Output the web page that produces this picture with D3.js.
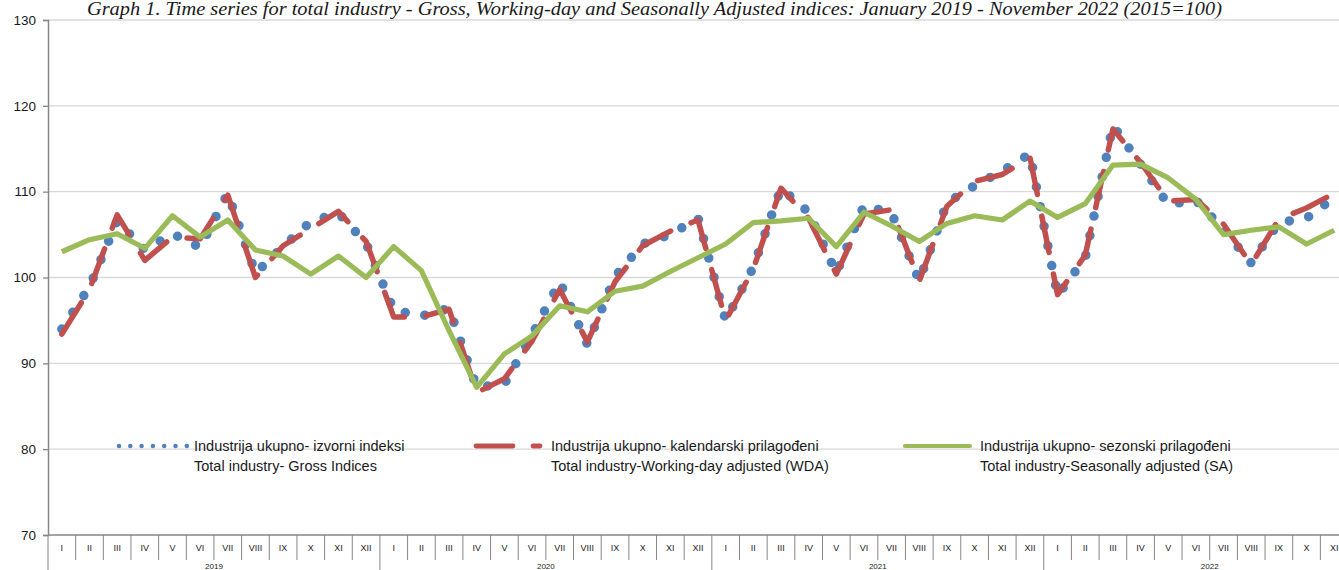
<!DOCTYPE html>
<html lang="en">
<head>
  <meta charset="UTF-8">
  <title>Graph 1. Total industry indices</title>
  <style>
    body { margin: 0; padding: 0; background: #ffffff; }
    svg { display: block; }
    .title { font-family: 'Liberation Serif', serif; font-style: italic; font-size: 18px; fill: #1a1a1a; }
    .lbl { font-family: 'Liberation Sans', Arial, sans-serif; fill: #1a1a1a; }
  </style>
</head>
<body>
<svg id="chart"></svg>
<script src="https://d3js.org/d3.v7.min.js"></script>
<script>
  const width = 1339, height = 570;

  const months = ["I", "II", "III", "IV", "V", "VI", "VII", "VIII", "IX", "X", "XI", "XII"];
  const years = ["2019", "2020", "2021", "2022"];
  const yTicks = [70, 80, 90, 100, 110, 120, 130];

  // Jan 2019 - Nov 2022
  const gross = [
    94.0, 98.9, 106.6, 103.2, 105.1, 103.5, 109.8, 100.5, 103.6, 106.5, 107.5, 104.0,
    96.2, 95.5, 96.4, 87.2, 87.6, 93.3, 99.5, 92.2, 100.1, 103.9, 105.0, 106.9,
    95.0, 101.2, 110.4, 107.6, 100.5, 108.4, 107.5, 99.6, 108.7, 110.7, 112.4, 114.4,
    97.9, 102.3, 117.7, 113.2, 108.5, 109.0, 105.6, 101.7, 106.4, 106.9, 109.3
  ];
  const wda = [
    93.4, 98.6, 107.3, 102.0, 104.7, 104.5, 109.6, 100.0, 103.7, 105.7, 107.7, 104.2,
    95.4, 95.4, 96.3, 86.6, 88.2, 92.6, 98.6, 92.5, 99.5, 103.7, 105.4, 106.7,
    95.0, 101.0, 110.4, 106.9, 100.4, 107.4, 107.9, 99.6, 108.3, 111.2, 112.0, 114.0,
    98.0, 102.6, 117.3, 113.4, 108.9, 109.1, 106.2, 101.5, 106.8, 108.1, 109.8
  ];
  const sa = [
    103.0, 104.4, 105.1, 103.4, 107.2, 104.7, 106.7, 103.2, 102.5, 100.4, 102.5, 100.0,
    103.6, 100.8, 93.8, 87.2, 91.1, 93.2, 96.7, 96.0, 98.4, 99.0, 100.7, 102.3,
    103.9, 106.4, 106.6, 106.9, 103.6, 107.6, 106.0, 104.2, 106.3, 107.2, 106.7, 108.9,
    107.0, 108.6, 113.1, 113.2, 111.6, 109.1, 105.0, 105.5, 105.9, 103.9, 105.5
  ];

  const legendHr = ["Industrija ukupno- izvorni indeksi", "Industrija ukupno- kalendarski prilagođeni", "Industrija ukupno- sezonski prilagođeni"];
  const legendEn = ["Total industry- Gross Indices", "Total industry-Working-day adjusted (WDA)", "Total industry-Seasonally adjusted (SA)"];

  const title = "Graph 1. Time series for total industry - Gross, Working-day and Seasonally Adjusted indices: January 2019 - November 2022 (2015=100)";

  // categories: year-month keys
  const cats = [];
  years.forEach(yr => months.forEach(m => { if (cats.length < gross.length) cats.push(yr + "-" + m); }));

  const left = 48, bw = 27.66;
  const x = d3.scaleBand().domain(cats).range([left, left + bw * cats.length]);
  const y = d3.scaleLinear().domain([70, 130]).range([535, 20]);
  const cx = i => x(cats[i]) + x.bandwidth() / 2;

  const svg = d3.select("#chart").attr("width", width).attr("height", height);

  // gridlines
  svg.append("g").selectAll("line")
    .data(yTicks.filter(t => t > 70))
    .enter().append("line")
    .attr("x1", left).attr("x2", width)
    .attr("y1", d => y(d)).attr("y2", d => y(d))
    .attr("stroke", "#d9d9d9").attr("stroke-width", 1.3);

  // y axis
  const yAxis = svg.append("g")
    .attr("transform", `translate(${left},0)`)
    .call(d3.axisLeft(y).tickValues(yTicks).tickSize(5).tickPadding(7));
  yAxis.select(".domain").attr("stroke", "#868686").attr("stroke-width", 1.5);
  yAxis.selectAll(".tick line").attr("stroke", "#868686").attr("stroke-width", 1.3);
  yAxis.selectAll(".tick text").attr("class", "lbl").style("font-size", "13.5px")
    .style("font-family", "'Liberation Sans', Arial, sans-serif").attr("fill", "#1a1a1a");

  // x axis line
  svg.append("line")
    .attr("x1", left).attr("x2", width)
    .attr("y1", y(70)).attr("y2", y(70))
    .attr("stroke", "#868686").attr("stroke-width", 1.5);

  // category separators
  const bounds = d3.range(cats.length + 1);
  svg.append("g").selectAll("line")
    .data(bounds)
    .enter().append("line")
    .attr("x1", i => left + i * x.step()).attr("x2", i => left + i * x.step())
    .attr("y1", y(70))
    .attr("y2", i => (i % 12 === 0) ? height : y(70) + 25)
    .attr("stroke", "#868686").attr("stroke-width", 1);

  // month labels
  svg.append("g").selectAll("text")
    .data(cats)
    .enter().append("text")
    .attr("class", "lbl")
    .attr("x", (d, i) => cx(i))
    .attr("y", y(70) + 16)
    .attr("text-anchor", "middle")
    .style("font-size", "9px")
    .text(d => d.split("-")[1]);

  // year labels
  svg.append("g").selectAll("text")
    .data(years)
    .enter().append("text")
    .attr("class", "lbl")
    .attr("x", (d, i) => left + (i * 12 + 6) * x.step())
    .attr("y", height - 1)
    .attr("text-anchor", "middle")
    .style("font-size", "8px")
    .text(d => d);

  // series
  const line = d3.line().x((d, i) => cx(i)).y(d => y(d));

  svg.append("path").datum(gross)
    .attr("d", line).attr("fill", "none")
    .attr("stroke", "#4f81bd").attr("stroke-width", 9.5)
    .attr("stroke-linecap", "round").attr("stroke-linejoin", "round")
    .attr("stroke-dasharray", "0,20");

  svg.append("path").datum(wda)
    .attr("d", line).attr("fill", "none")
    .attr("stroke", "#c0504d").attr("stroke-width", 5.5)
    .attr("stroke-linecap", "round").attr("stroke-linejoin", "round")
    .attr("stroke-dasharray", "37,22");

  svg.append("path").datum(sa)
    .attr("d", line).attr("fill", "none")
    .attr("stroke", "#9bbb59").attr("stroke-width", 5.2)
    .attr("stroke-linejoin", "round");

  // legend
  const legX = [117, 474, 903];
  const legY = 446;
  const leg = svg.append("g");

  leg.append("line")
    .attr("x1", legX[0] + 2).attr("x2", legX[0] + 70).attr("y1", legY).attr("y2", legY)
    .attr("stroke", "#4f81bd").attr("stroke-width", 4.5)
    .attr("stroke-linecap", "round").attr("stroke-dasharray", "0,11.3");

  leg.append("line")
    .attr("x1", legX[1] + 2).attr("x2", legX[1] + 66).attr("y1", legY).attr("y2", legY)
    .attr("stroke", "#c0504d").attr("stroke-width", 4.8)
    .attr("stroke-linecap", "round").attr("stroke-dasharray", "37,20");

  leg.append("line")
    .attr("x1", legX[2] + 2).attr("x2", legX[2] + 67).attr("y1", legY).attr("y2", legY)
    .attr("stroke", "#9bbb59").attr("stroke-width", 4.2)
    .attr("stroke-linecap", "round");

  legendHr.forEach((t, i) => {
    leg.append("text").attr("class", "lbl")
      .attr("x", legX[i] + 77).attr("y", legY + 5)
      .style("font-size", "14.5px").text(t);
    leg.append("text").attr("class", "lbl")
      .attr("x", legX[i] + 77).attr("y", legY + 25)
      .style("font-size", "14.5px").text(legendEn[i]);
  });

  // title
  svg.append("text")
    .attr("class", "title")
    .attr("x", 87).attr("y", 15)
    .attr("textLength", 1135).attr("lengthAdjust", "spacingAndGlyphs")
    .text(title);
</script>
</body>
</html>
